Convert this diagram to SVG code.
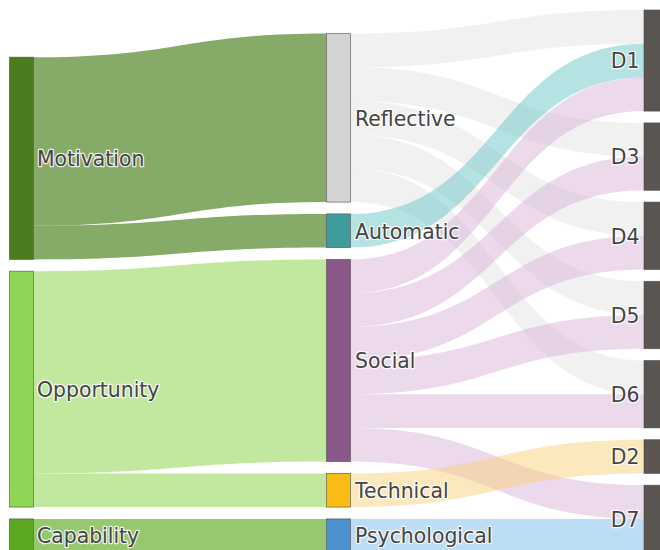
<svg xmlns="http://www.w3.org/2000/svg" width="660" height="550" viewBox="0 0 660 550">
<style>
.node{stroke:#444;stroke-width:0.8;stroke-opacity:0.7}
.lbl{font-family:"DejaVu Sans",Verdana,sans-serif;font-size:20.4px;fill:#444;stroke:#fff;stroke-width:2.5;stroke-opacity:0.85;paint-order:stroke;stroke-linejoin:round}
.end{text-anchor:end}
.lm{fill:#86aa68}
.lo{fill:#c2e8a0}
.lc{fill:#96c86e}
.lr{fill:#e3e3e3;fill-opacity:0.5}
.la{fill:#6bc5c5;fill-opacity:0.5}
.ls{fill:#d9b5d9;fill-opacity:0.5}
.lt{fill:#f7d17b;fill-opacity:0.5}
.lp{fill:#77bbeb;fill-opacity:0.5}
.d{fill:#5a5551}
</style>
<rect width="660" height="550" fill="#fff"/>
<g id="links">
<path class="lm" d="M33.5,57.2 C180,57.2 180,33.6 326.5,33.6 L326.5,202.1 C180,202.1 180,225.7 33.5,225.7 Z"/>
<path class="lm" d="M33.5,225.7 C180,225.7 180,213.9 326.5,213.9 L326.5,247.6 C180,247.6 180,259.4 33.5,259.4 Z"/>
<path class="lo" d="M33.5,271.2 C180,271.2 180,259.4 326.5,259.4 L326.5,461.6 C180,461.6 180,473.4 33.5,473.4 Z"/>
<path class="lo" d="M33.5,473.4 C180,473.4 180,473.4 326.5,473.4 L326.5,507.1 C180,507.1 180,507.1 33.5,507.1 Z"/>
<path class="lc" d="M33.5,518.9 C180,518.9 180,518.9 326.5,518.9 L326.5,552.6 C180,552.6 180,552.6 33.5,552.6 Z"/>
<path class="lr" d="M350.5,33.6 C497.25,33.6 497.25,10 644,10 L644,43.7 C497.25,43.7 497.25,67.3 350.5,67.3 Z"/>
<path class="lr" d="M350.5,67.3 C497.25,67.3 497.25,122.9 644,122.9 L644,156.6 C497.25,156.6 497.25,101 350.5,101 Z"/>
<path class="lr" d="M350.5,101 C497.25,101 497.25,202.1 644,202.1 L644,235.8 C497.25,235.8 497.25,134.7 350.5,134.7 Z"/>
<path class="lr" d="M350.5,134.7 C497.25,134.7 497.25,281.3 644,281.3 L644,315 C497.25,315 497.25,168.4 350.5,168.4 Z"/>
<path class="lr" d="M350.5,168.4 C497.25,168.4 497.25,360.5 644,360.5 L644,394.2 C497.25,394.2 497.25,202.1 350.5,202.1 Z"/>
<path class="la" d="M350.5,213.9 C497.25,213.9 497.25,43.7 644,43.7 L644,77.4 C497.25,77.4 497.25,247.6 350.5,247.6 Z"/>
<path class="ls" d="M350.5,259.4 C497.25,259.4 497.25,77.4 644,77.4 L644,111.1 C497.25,111.1 497.25,293.1 350.5,293.1 Z"/>
<path class="ls" d="M350.5,293.1 C497.25,293.1 497.25,156.6 644,156.6 L644,190.3 C497.25,190.3 497.25,326.8 350.5,326.8 Z"/>
<path class="ls" d="M350.5,326.8 C497.25,326.8 497.25,235.8 644,235.8 L644,269.5 C497.25,269.5 497.25,360.5 350.5,360.5 Z"/>
<path class="ls" d="M350.5,360.5 C497.25,360.5 497.25,315 644,315 L644,348.7 C497.25,348.7 497.25,394.2 350.5,394.2 Z"/>
<path class="ls" d="M350.5,394.2 C497.25,394.2 497.25,394.2 644,394.2 L644,427.9 C497.25,427.9 497.25,427.9 350.5,427.9 Z"/>
<path class="ls" d="M350.5,427.9 C497.25,427.9 497.25,485.2 644,485.2 L644,518.9 C497.25,518.9 497.25,461.6 350.5,461.6 Z"/>
<path class="lt" d="M350.5,473.4 C497.25,473.4 497.25,439.7 644,439.7 L644,473.4 C497.25,473.4 497.25,507.1 350.5,507.1 Z"/>
<path class="lp" d="M350.5,518.9 C497.25,518.9 497.25,518.9 644,518.9 L644,552.6 C497.25,552.6 497.25,552.6 350.5,552.6 Z"/>
</g>
<g id="motivation"><rect class="node" x="9.5" y="57.2" width="24" height="202.2" fill="#4b7d1e"/><text class="lbl" x="37" y="165.8">Motivation</text></g>
<g id="opportunity"><rect class="node" x="9.5" y="271.2" width="24" height="235.9" fill="#8fd656"/><text class="lbl" x="37" y="396.7">Opportunity</text></g>
<g id="capability"><rect class="node" x="9.5" y="518.9" width="24" height="33.7" fill="#5ca81e"/><text class="lbl" x="37" y="543.2">Capability</text></g>
<g id="reflective"><rect class="node" x="326.5" y="33.6" width="24" height="168.5" fill="#d3d3d3"/><text class="lbl" x="355" y="125.8">Reflective</text></g>
<g id="automatic"><rect class="node" x="326.5" y="213.9" width="24" height="33.7" fill="#409c9c"/><text class="lbl" x="355" y="238.5">Automatic</text></g>
<g id="social"><rect class="node" x="326.5" y="259.4" width="24" height="202.2" fill="#8a5888"/><text class="lbl" x="355" y="368.2">Social</text></g>
<g id="technical"><rect class="node" x="326.5" y="473.4" width="24" height="33.7" fill="#f9bc15"/><text class="lbl" x="355" y="498">Technical</text></g>
<g id="psychological"><rect class="node" x="326.5" y="518.9" width="24" height="33.7" fill="#4b91d0"/><text class="lbl" x="355" y="543.2">Psychological</text></g>
<g id="d1"><rect class="node d" x="644" y="10" width="24" height="101.1"/><text class="lbl end" x="639.5" y="68.3">D1</text></g>
<g id="d3"><rect class="node d" x="644" y="122.9" width="24" height="67.4"/><text class="lbl end" x="639.5" y="164.3">D3</text></g>
<g id="d4"><rect class="node d" x="644" y="202.1" width="24" height="67.4"/><text class="lbl end" x="639.5" y="243.5">D4</text></g>
<g id="d5"><rect class="node d" x="644" y="281.3" width="24" height="67.4"/><text class="lbl end" x="639.5" y="322.7">D5</text></g>
<g id="d6"><rect class="node d" x="644" y="360.5" width="24" height="67.4"/><text class="lbl end" x="639.5" y="401.9">D6</text></g>
<g id="d2"><rect class="node d" x="644" y="439.7" width="24" height="33.7"/><text class="lbl end" x="639.5" y="464.2">D2</text></g>
<g id="d7"><rect class="node d" x="644" y="485.2" width="24" height="67.4"/><text class="lbl end" x="639.5" y="526.6">D7</text></g>
</svg>
